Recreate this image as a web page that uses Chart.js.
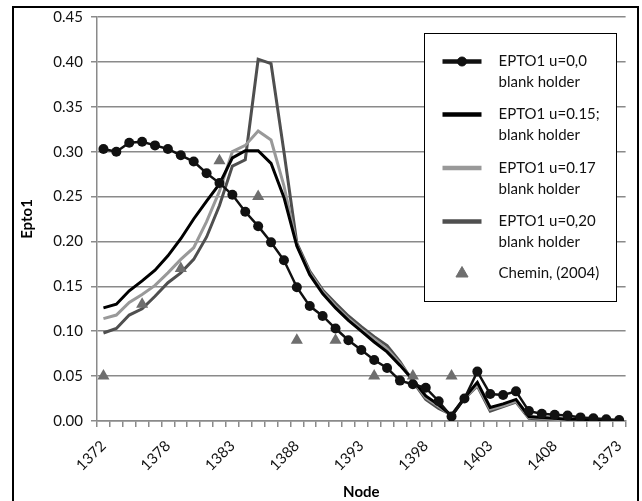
<!DOCTYPE html>
<html>
<head>
<meta charset="utf-8">
<script src="https://cdn.jsdelivr.net/npm/chart.js@4.4.1/dist/chart.umd.min.js"></script>
<style>
  html, body { margin: 0; padding: 0; background: #fff; }
  #wrap { width: 642px; height: 501px; }
</style>
</head>
<body>
<div id="wrap"><canvas id="eptoChart" width="642" height="501"></canvas></div>
<script>
// node order along the section (1373 closes the loop at the end)
const nodes = [
  1372, 1374, 1375, 1376, 1377, 1378, 1379, 1380, 1381, 1382,
  1383, 1384, 1385, 1386, 1387, 1388, 1389, 1390, 1391, 1392,
  1393, 1394, 1395, 1396, 1397, 1398, 1399, 1400, 1401, 1402,
  1403, 1404, 1405, 1406, 1407, 1408, 1409, 1410, 1411, 1412,
  1373
];

const epto_u000 = [
  0.303, 0.300, 0.310, 0.311, 0.307, 0.303, 0.296, 0.289, 0.276, 0.265,
  0.252, 0.233, 0.217, 0.199, 0.179, 0.149, 0.128, 0.117, 0.103, 0.090,
  0.079, 0.068, 0.059, 0.045, 0.041, 0.037, 0.022, 0.005, 0.025, 0.055,
  0.030, 0.029, 0.033, 0.011, 0.008, 0.007, 0.006, 0.004, 0.003, 0.002,
  0.001
];

const epto_u015 = [
  0.126, 0.130, 0.145, 0.156, 0.168, 0.184, 0.203, 0.225, 0.245, 0.264,
  0.293, 0.301, 0.301, 0.287, 0.249, 0.195, 0.163, 0.142, 0.126, 0.112,
  0.100, 0.088, 0.077, 0.062, 0.046, 0.028, 0.018, 0.006, 0.026, 0.043,
  0.015, 0.019, 0.024, 0.005, 0.004, 0.003, 0.002, 0.002, 0.001, 0.001,
  0.000
];

const epto_u017 = [
  0.114, 0.118, 0.132, 0.141, 0.151, 0.165, 0.180, 0.193, 0.222, 0.256,
  0.300, 0.307, 0.323, 0.313, 0.262, 0.196, 0.165, 0.144, 0.128, 0.114,
  0.102, 0.091, 0.080, 0.064, 0.045, 0.026, 0.016, 0.006, 0.025, 0.040,
  0.013, 0.017, 0.022, 0.004, 0.003, 0.002, 0.001, 0.001, 0.001, 0.000,
  0.000
];

const epto_u020 = [
  0.098, 0.103, 0.118, 0.125, 0.139, 0.154, 0.165, 0.180, 0.205, 0.240,
  0.284, 0.291, 0.403, 0.398, 0.300, 0.198, 0.167, 0.146, 0.131, 0.117,
  0.105, 0.094, 0.084, 0.066, 0.044, 0.024, 0.014, 0.007, 0.025, 0.039,
  0.011, 0.016, 0.021, 0.003, 0.002, 0.002, 0.001, 0.001, 0.000, 0.000,
  0.000
];

// measured points, every third node
const chemin2004 = [
  0.05, null, null, 0.13, null, null, 0.17, null, null, 0.29,
  null, null, 0.25, null, null, 0.09, null, null, 0.09, null,
  null, 0.05, null, null, 0.05, null, null, 0.05, null, null,
  null, null, null, null, null, null, null, null, null, null,
  null
];

const seriesNames = [
  ['EPTO1 u=0,0', 'blank holder'],
  ['EPTO1 u=0.15;', 'blank holder'],
  ['EPTO1 u=0.17', 'blank holder'],
  ['EPTO1 u=0,20', 'blank holder'],
  ['Chemin, (2004)']
];

const FONT = 'Lato, "Open Sans", sans-serif';

// boxed legend sitting inside the plot, upper right
const legendBox = {
  id: 'legendBox',
  afterDatasetsDraw(chart) {
    const ctx = chart.ctx;
    const x0 = 424.5, y0 = 33.5, w = 192, h = 268;
    const rowY = [28, 81, 134.5, 188, 240];
    ctx.save();
    ctx.fillStyle = '#fff';
    ctx.fillRect(x0, y0, w, h);
    ctx.strokeStyle = '#000';
    ctx.lineWidth = 1;
    ctx.strokeRect(x0, y0, w, h);
    ctx.font = '15px ' + FONT;
    ctx.textBaseline = 'middle';
    chart.data.datasets.forEach((ds, i) => {
      const cy = y0 + rowY[i];
      const sx = x0 + 18, ex = x0 + 57, mx = (sx + ex) / 2;
      if (ds.showLine !== false) {
        ctx.strokeStyle = ds.borderColor;
        ctx.lineWidth = 4.5;
        ctx.beginPath();
        ctx.moveTo(sx, cy);
        ctx.lineTo(ex, cy);
        ctx.stroke();
      }
      if (ds.pointRadius > 0) {
        ctx.fillStyle = ds.pointBackgroundColor;
        ctx.strokeStyle = ds.pointBackgroundColor;
        ctx.lineWidth = 1;
        Chart.helpers.drawPoint(ctx, {
          pointStyle: ds.pointStyle || 'circle',
          radius: ds.pointStyle === 'triangle' ? 7 : 4.5,
          borderWidth: 1
        }, mx, cy);
      }
      ctx.fillStyle = '#111';
      seriesNames[i].forEach((t, k) => ctx.fillText(t, x0 + 74, cy + k * 21));
    });
    ctx.restore();
  }
};

// thin black frame around the figure
const outerFrame = {
  id: 'outerFrame',
  afterDraw(chart) {
    const ctx = chart.ctx;
    ctx.save();
    ctx.strokeStyle = '#000';
    ctx.lineWidth = 2;
    ctx.beginPath();
    ctx.moveTo(13, 501);
    ctx.lineTo(13, 7);
    ctx.lineTo(638, 7);
    ctx.lineTo(638, 501);
    ctx.stroke();
    ctx.restore();
  }
};

const ctx = document.getElementById('eptoChart').getContext('2d');
new Chart(ctx, {
  type: 'line',
  data: {
    labels: nodes,
    datasets: [
      {
        label: seriesNames[0].join(' '),
        data: epto_u000,
        borderColor: '#111',
        borderWidth: 2.5,
        pointRadius: 5,
        pointBackgroundColor: '#111',
        pointBorderColor: '#111',
        pointBorderWidth: 0
      },
      {
        label: seriesNames[1].join(' '),
        data: epto_u015,
        borderColor: '#000',
        borderWidth: 3,
        pointRadius: 0
      },
      {
        label: seriesNames[2].join(' '),
        data: epto_u017,
        borderColor: '#999',
        borderWidth: 3,
        pointRadius: 0
      },
      {
        label: seriesNames[3].join(' '),
        data: epto_u020,
        borderColor: '#4f4f4f',
        borderWidth: 3,
        pointRadius: 0
      },
      {
        label: seriesNames[4].join(' '),
        data: chemin2004,
        showLine: false,
        borderColor: '#6e6e6e',
        pointStyle: 'triangle',
        pointRadius: 7,
        pointBackgroundColor: '#6e6e6e',
        pointBorderColor: '#6e6e6e',
        pointBorderWidth: 0,
        order: -1
      }
    ]
  },
  options: {
    responsive: false,
    animation: false,
    events: [],
    layout: { padding: { left: 0, top: 15, right: 10, bottom: 0 } },
    elements: { line: { tension: 0 } },
    plugins: {
      legend: { display: false },
      tooltip: { enabled: false }
    },
    scales: {
      x: {
        offset: true,
        grid: {
          offset: true,
          drawOnChartArea: false,
          drawTicks: true,
          tickLength: 6,
          color: '#8a8a8a',
          lineWidth: 1.5
        },
        border: { color: '#8a8a8a', width: 1.5 },
        ticks: {
          autoSkip: false,
          minRotation: 45,
          maxRotation: 45,
          padding: 10,
          color: '#111',
          font: { family: FONT, size: 15 },
          callback(value, index) {
            return index % 5 === 0 ? this.getLabelForValue(value) : '';
          }
        },
        title: {
          display: true,
          text: 'Node',
          color: '#000',
          font: { family: FONT, size: 15, weight: 'bold' },
          padding: { top: 4, bottom: 0 }
        },
        afterFit(scale) { scale.height = 80; }
      },
      y: {
        min: 0,
        max: 0.45,
        grid: {
          color: '#8a8a8a',
          lineWidth: 1.5,
          tickLength: 6
        },
        border: { color: '#8a8a8a', width: 1.5 },
        ticks: {
          stepSize: 0.05,
          padding: 8,
          color: '#111',
          font: { family: FONT, size: 15 },
          callback: v => v.toFixed(2)
        },
        title: {
          display: true,
          text: 'Epto1',
          color: '#000',
          font: { family: FONT, size: 15, weight: 'bold' },
          padding: { top: 18, bottom: 0 }
        },
        afterFit(scale) { scale.width = 97; }
      }
    }
  },
  plugins: [legendBox, outerFrame]
});
</script>
</body>
</html>
